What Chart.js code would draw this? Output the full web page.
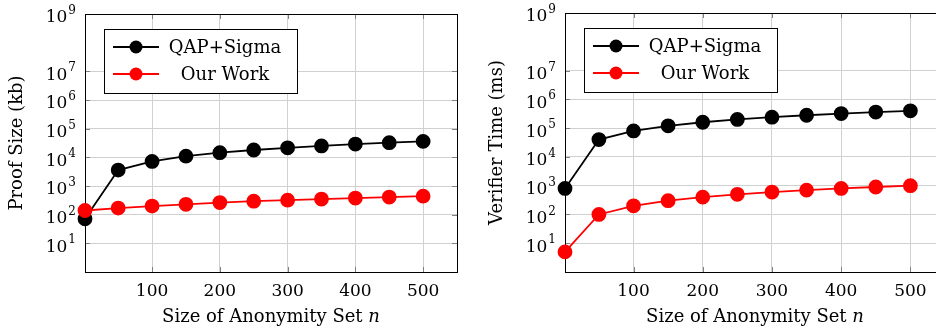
<!DOCTYPE html>
<html>
<head>
<meta charset="utf-8">
<script src="https://cdn.jsdelivr.net/npm/chart.js@4.4.1/dist/chart.umd.min.js"></script>
<style>
html, body { margin: 0; padding: 0; background: #fff; overflow: hidden; }
#wrap { position: relative; width: 936px; height: 332px; overflow: hidden; }
#proofChart { position: absolute; left: 0; top: 0; }
#verifyChart { position: absolute; left: 470px; top: 0; }
</style>
</head>
<body>
<div id="wrap">
  <canvas id="proofChart" width="470" height="332"></canvas>
  <canvas id="verifyChart" width="490" height="332"></canvas>
</div>
<script>
// anonymity set sizes (x axis)
const setSizes = [1, 50, 100, 150, 200, 250, 300, 350, 400, 450, 500];

// proof size in kb
const proofQap = [72, 3600, 7200, 11000, 14500, 18000, 21500, 25000, 29000, 32500, 36000];
const proofOurs = [140, 170, 200, 230, 265, 295, 320, 350, 380, 410, 440];

// verifier time in ms
const verifyQap = [800, 40000, 80000, 120000, 160000, 200000, 240000, 280000, 320000, 360000, 400000];
const verifyOurs = [5, 100, 200, 300, 400, 500, 600, 700, 800, 900, 1000];

const seriesLabels = ['QAP+Sigma', 'Our Work'];
const xTicks = [100, 200, 300, 400, 500];
const yTicks = [1e1, 1e2, 1e3, 1e4, 1e5, 1e6, 1e7, 1e9];
const xTitle = 'Size of Anonymity Set ';
const xTitleVar = 'n';

Chart.defaults.font.family = "'DejaVu Serif', serif";
Chart.defaults.color = '#000';

const SERIF = "'DejaVu Serif', serif";

function toPoints(ys) {
    return setSizes.map((x, i) => ({ x: x, y: ys[i] }));
}

// box around the plot plus small inner tick marks like pgfplots
const framePlugin = {
    id: 'frame',
    beforeDatasetsDraw(chart) {
        const a = chart.chartArea;
        const ctx = chart.ctx;
        const xs = chart.scales.x, ys = chart.scales.y;
        ctx.save();
        ctx.strokeStyle = '#808080';
        ctx.lineWidth = 1;
        ctx.beginPath();
        xTicks.forEach(t => {
            const px = Math.round(xs.getPixelForValue(t)) + 0.5;
            ctx.moveTo(px, a.bottom); ctx.lineTo(px, a.bottom - 5);
            ctx.moveTo(px, a.top); ctx.lineTo(px, a.top + 5);
        });
        yTicks.forEach(t => {
            const py = Math.round(ys.getPixelForValue(t)) + 0.5;
            ctx.moveTo(a.left, py); ctx.lineTo(a.left + 5, py);
            ctx.moveTo(a.right, py); ctx.lineTo(a.right - 5, py);
        });
        ctx.stroke();
        ctx.strokeStyle = '#000';
        ctx.strokeRect(Math.round(a.left) + 0.5, Math.round(a.top) + 0.5,
                       Math.round(a.right - a.left), Math.round(a.bottom - a.top));
        ctx.restore();
    }
};

// y tick labels as 10 with a raised exponent
const powLabelPlugin = {
    id: 'powLabels',
    afterDraw(chart) {
        const a = chart.chartArea;
        const ctx = chart.ctx;
        const ys = chart.scales.y;
        ctx.save();
        ctx.fillStyle = '#000';
        ctx.textBaseline = 'middle';
        ctx.textAlign = 'left';
        yTicks.forEach(t => {
            const py = ys.getPixelForValue(t);
            const exp = String(Math.round(Math.log10(t)));
            ctx.font = '12px ' + SERIF;
            const we = ctx.measureText(exp).width;
            ctx.font = '17px ' + SERIF;
            const wb = ctx.measureText('10').width;
            const x0 = a.left - 9 - we - wb - 1;
            ctx.fillText('10', x0, py + 4);
            ctx.font = '12px ' + SERIF;
            ctx.fillText(exp, x0 + wb + 1, py - 3);
        });
        ctx.restore();
    }
};

// legend box with line + marker samples
const legendPlugin = {
    id: 'boxLegend',
    afterDraw(chart) {
        const a = chart.chartArea;
        const ctx = chart.ctx;
        const bx = a.left + 19, by = a.top + 15, bw = 193, bh = 64;
        ctx.save();
        ctx.fillStyle = '#fff';
        ctx.fillRect(bx, by, bw, bh);
        ctx.strokeStyle = '#000';
        ctx.lineWidth = 1;
        ctx.strokeRect(bx + 0.5, by + 0.5, bw, bh);
        chart.data.datasets.forEach((ds, i) => {
            const cy = by + 18 + i * 27;
            ctx.strokeStyle = ds.borderColor;
            ctx.lineWidth = 2;
            ctx.beginPath();
            ctx.moveTo(bx + 9, cy); ctx.lineTo(bx + 55, cy);
            ctx.stroke();
            ctx.fillStyle = ds.backgroundColor;
            ctx.beginPath();
            ctx.arc(bx + 32, cy, 6.5, 0, Math.PI * 2);
            ctx.fill();
            ctx.fillStyle = '#000';
            ctx.font = '18px ' + SERIF;
            ctx.textAlign = 'center';
            ctx.textBaseline = 'middle';
            ctx.fillText(ds.label, bx + 121, cy + 1);
        });
        ctx.restore();
    }
};

// x axis title with an italic variable
const xTitlePlugin = {
    id: 'xTitle',
    afterDraw(chart) {
        const a = chart.chartArea;
        const ctx = chart.ctx;
        ctx.save();
        ctx.fillStyle = '#000';
        ctx.textBaseline = 'middle';
        ctx.textAlign = 'left';
        ctx.font = '18px ' + SERIF;
        const w1 = ctx.measureText(xTitle).width;
        ctx.font = 'italic 18px ' + SERIF;
        const w2 = ctx.measureText(xTitleVar).width;
        const x0 = (a.left + a.right) / 2 - (w1 + w2) / 2;
        ctx.font = '18px ' + SERIF;
        ctx.fillText(xTitle, x0, 317);
        ctx.font = 'italic 18px ' + SERIF;
        ctx.fillText(xTitleVar, x0 + w1, 317);
        ctx.restore();
    }
};

function makeChart(id, qap, ours, yTitle, yWidth, titlePad, rightPad, topPad) {
    const ctx = document.getElementById(id).getContext('2d');
    return new Chart(ctx, {
        type: 'line',
        data: {
            datasets: [{
                label: seriesLabels[0],
                data: toPoints(qap),
                borderColor: '#000000',
                backgroundColor: '#000000',
                borderWidth: 1.8,
                pointRadius: 6.5,
                pointHoverRadius: 6.5,
                clip: false,
                order: 1
            }, {
                label: seriesLabels[1],
                data: toPoints(ours),
                borderColor: '#ff0000',
                backgroundColor: '#ff0000',
                borderWidth: 1.8,
                pointRadius: 6.5,
                pointHoverRadius: 6.5,
                clip: false,
                order: 0
            }]
        },
        options: {
            responsive: false,
            animation: false,
            layout: { padding: { top: topPad, right: rightPad, left: 0, bottom: 0 } },
            plugins: { legend: { display: false }, tooltip: { enabled: false } },
            scales: {
                x: {
                    type: 'linear',
                    min: 1,
                    max: 550,
                    afterBuildTicks: axis => { axis.ticks = xTicks.map(v => ({ value: v })); },
                    afterFit: axis => { axis.height = 60; },
                    grid: { color: '#d0d0d0', drawTicks: false },
                    border: { display: false },
                    ticks: { font: { size: 17 }, padding: 9, maxRotation: 0, autoSkip: false }
                },
                y: {
                    type: 'logarithmic',
                    min: 1,
                    max: 1e9,
                    afterBuildTicks: axis => { axis.ticks = yTicks.map(v => ({ value: v })); },
                    afterFit: axis => { axis.width = yWidth; },
                    grid: { color: '#d0d0d0', drawTicks: false },
                    border: { display: false },
                    ticks: { display: false },
                    title: {
                        display: true,
                        text: yTitle,
                        font: { size: 18 },
                        padding: { top: titlePad, bottom: 0 }
                    }
                }
            }
        },
        plugins: [framePlugin, powLabelPlugin, legendPlugin, xTitlePlugin]
    });
}

makeChart('proofChart', proofQap, proofOurs, 'Proof Size (kb)', 85, 7, 13, 14);
makeChart('verifyChart', verifyQap, verifyOurs, 'Verifier Time (ms)', 95, 17, 15, 13);
</script>
</body>
</html>
